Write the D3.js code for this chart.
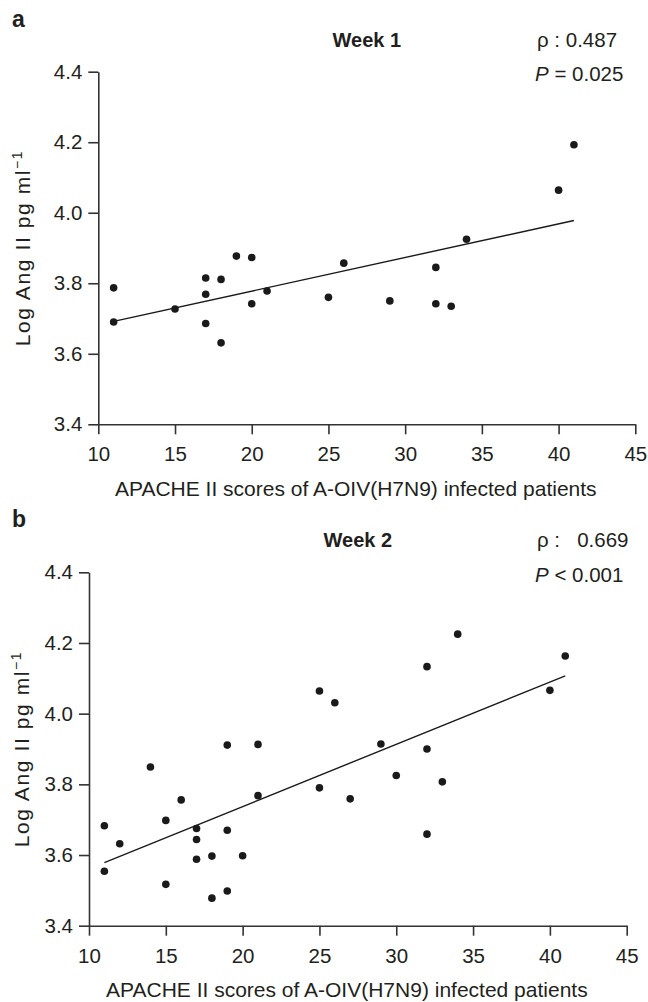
<!DOCTYPE html>
<html>
<head>
<meta charset="utf-8">
<script src="https://cdn.jsdelivr.net/npm/d3@7"></script>
<style>
  body { margin: 0; background: #fff; }
  svg { display: block; font-family: "Liberation Sans", Arial, sans-serif; }
  text { fill: #231f20; }
</style>
</head>
<body>
<svg id="chart" width="648" height="1002"></svg>
<script>
// values
const xTicks = [10, 15, 20, 25, 30, 35, 40, 45];
const yTicks = [3.4, 3.6, 3.8, 4.0, 4.2, 4.4];

const week1X = [11, 11, 15, 17, 17, 17, 18, 18, 19, 20, 20, 21, 25, 26, 29, 32, 32, 33, 34, 40, 41];
const week1Y = [3.787, 3.690, 3.727, 3.815, 3.769, 3.686, 3.811, 3.631, 3.877, 3.873, 3.742, 3.778,
                3.760, 3.857, 3.750, 3.845, 3.742, 3.735, 3.925, 4.064, 4.193];

const week2X = [11, 11, 12, 14, 15, 15, 16, 17, 17, 17, 18, 18, 19, 19, 19, 20, 21, 21,
                25, 25, 26, 27, 29, 30, 32, 32, 32, 33, 34, 40, 41];
const week2Y = [3.683, 3.554, 3.632, 3.849, 3.698, 3.517, 3.756, 3.675, 3.644, 3.588, 3.597, 3.478,
                3.911, 3.670, 3.498, 3.598, 3.913, 3.768, 4.064, 3.790, 4.031, 3.759, 3.914, 3.825,
                4.133, 3.900, 3.659, 3.807, 4.225, 4.066, 4.163];

const panelLetters = ["a", "b"];
const panelTitles = ["Week 1", "Week 2"];
const rhoTexts = ["0.487", "  0.669"];
const pTexts = [["=", "0.025"], ["<", "0.001"]];

const xLabel = "APACHE II scores of A-OIV(H7N9) infected patients";

let svg = d3.select("#chart");

/** least squares line through the points */
function fitLine(xs, ys) {
  let mx = d3.mean(xs), my = d3.mean(ys), sxy = 0, sxx = 0;
  xs.forEach((x, i) => { sxy += (x - mx) * (ys[i] - my); sxx += (x - mx) * (x - mx); });
  let slope = sxy / sxx;
  return (x) => my + slope * (x - mx);
}

function drawPanel(p) {
  let x = d3.scaleLinear().domain([10, 45]).range([p.left, p.right]),
    y = d3.scaleLinear().domain([3.4, 4.4]).range([p.bottom, p.top]);

  let g = svg.append("g").attr("class", "panel-" + p.letter);

  // axes
  let gx = g.append("g")
    .attr("transform", "translate(0," + p.bottom + ")")
    .call(d3.axisBottom(x).tickValues(xTicks).tickSize(10).tickSizeOuter(0).tickPadding(12.5)
      .tickFormat(d3.format("d")));
  let gy = g.append("g")
    .attr("transform", "translate(" + p.left + ",0)")
    .call(d3.axisLeft(y).tickValues(yTicks).tickSize(10).tickSizeOuter(0).tickPadding(6)
      .tickFormat(d3.format(".1f")));
  [gx, gy].forEach(a => {
    a.selectAll("path, line").attr("stroke", "#333").attr("stroke-width", 1.6);
    a.selectAll("text").attr("font-size", 20.5).attr("fill", "#231f20")
      .attr("font-family", "'Liberation Sans', Arial, sans-serif");
  });

  // regression line
  let f = fitLine(p.xs, p.ys),
    ext = d3.extent(p.xs);
  g.append("path")
    .datum(ext)
    .attr("fill", "none")
    .attr("stroke", "#1a1a1a")
    .attr("stroke-width", 1.4)
    .attr("d", d3.line().x(d => x(d)).y(d => y(f(d))));

  // points
  g.append("g").selectAll("circle")
    .data(p.xs.map((v, i) => [v, p.ys[i]]))
    .enter().append("circle")
    .attr("cx", d => x(d[0]))
    .attr("cy", d => y(d[1]))
    .attr("r", 3.8)
    .attr("fill", "#1a1a1a");

  // labels
  g.append("text")
    .attr("x", 12).attr("y", p.top - 45)
    .attr("font-size", 23).attr("font-weight", "bold")
    .text(p.letter);

  g.append("text")
    .attr("x", (p.left + p.right) / 2).attr("y", p.top - 25)
    .attr("text-anchor", "middle")
    .attr("font-size", 20).attr("font-weight", "bold")
    .text(p.title);

  g.append("text")
    .attr("x", 537).attr("y", p.top - 25)
    .attr("font-size", 20.5)
    .style("white-space", "pre")
    .text("\u03c1 : " + p.rho);

  let pt = g.append("text")
    .attr("x", 535).attr("y", p.top + 9.5)
    .attr("font-size", 20.5);
  pt.append("tspan").attr("font-style", "italic").text("P");
  pt.append("tspan").text(" " + p.pv[0] + " " + p.pv[1]);

  g.append("text")
    .attr("x", (p.left + p.right) / 2 - 11).attr("y", p.bottom + 71.5)
    .attr("text-anchor", "middle")
    .attr("font-size", 21)
    .text(xLabel);

  let yl = g.append("text")
    .attr("transform", "translate(" + p.ylabX + "," + (p.top + p.bottom) / 2 + ") rotate(-90)")
    .attr("text-anchor", "middle")
    .attr("font-size", 21)
    .attr("letter-spacing", 1.6);
  yl.append("tspan").text("Log Ang II pg ml");
  yl.append("tspan").attr("font-size", 14).attr("dy", -8).text("\u22121");
}

let panels = [
  { left: 98.3, right: 635.3, top: 71.7, bottom: 424.3, ylabX: 30 },
  { left: 89, right: 626.7, top: 572.3, bottom: 925.7, ylabX: 29 }
];
panels.forEach((p, i) => {
  p.letter = panelLetters[i];
  p.title = panelTitles[i];
  p.rho = rhoTexts[i];
  p.pv = pTexts[i];
  p.xs = i === 0 ? week1X : week2X;
  p.ys = i === 0 ? week1Y : week2Y;
  drawPanel(p);
});
</script>
</body>
</html>
